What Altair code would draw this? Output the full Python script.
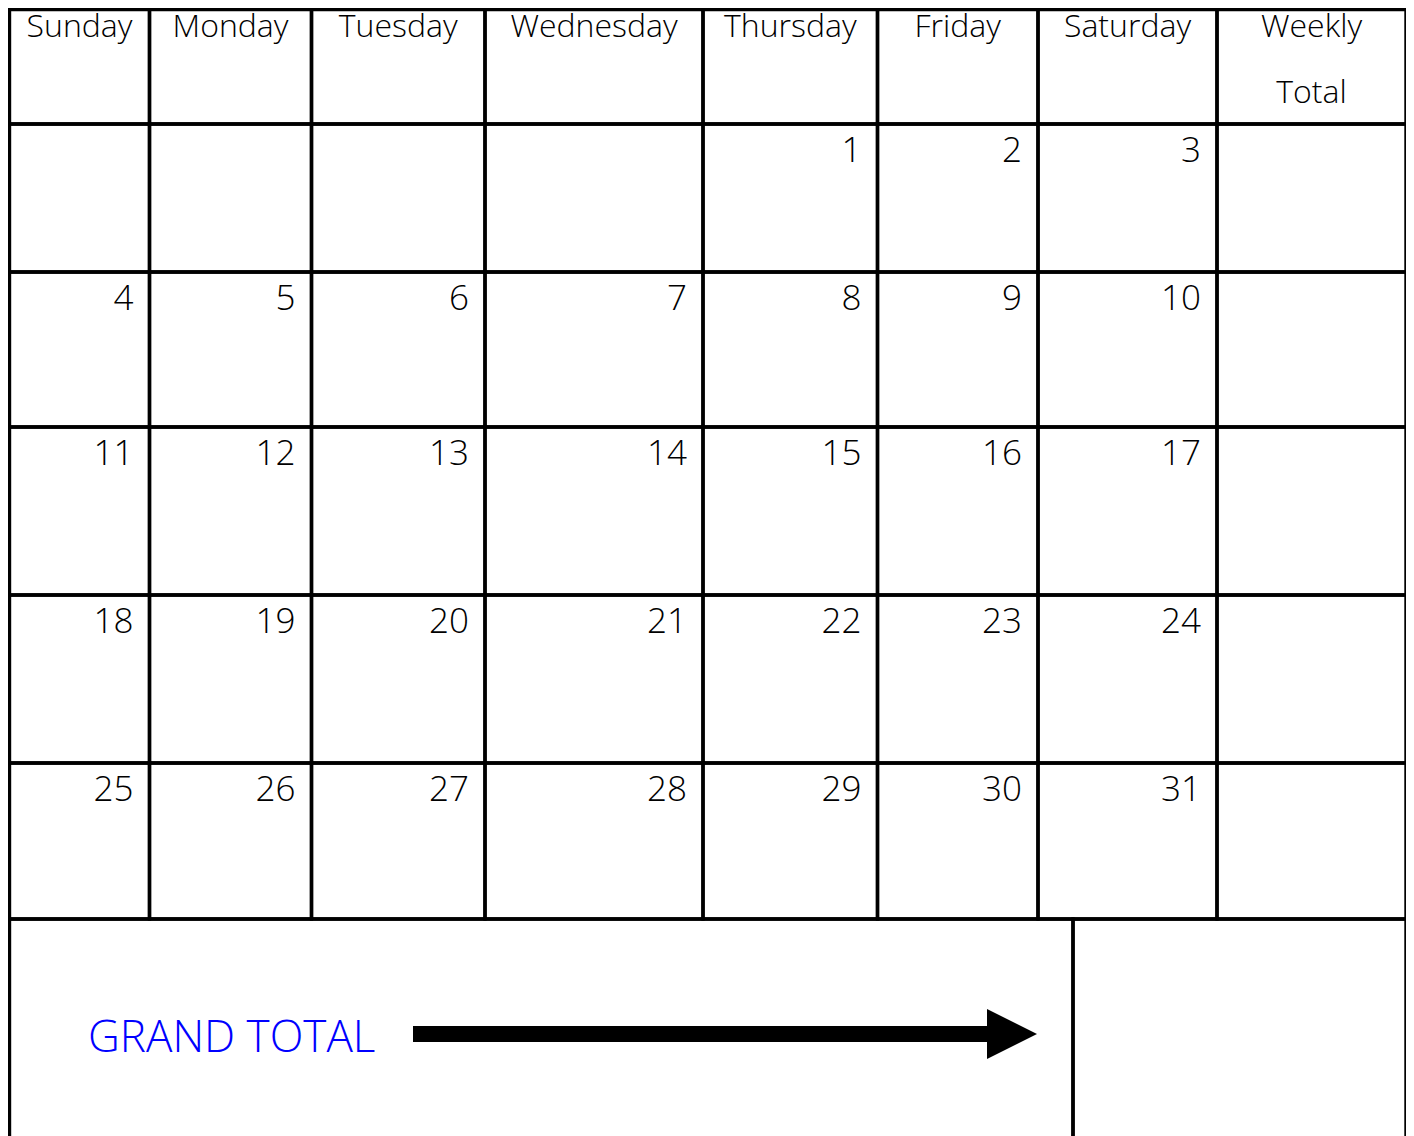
import altair as alt
import pandas as pd

# ---------------- data ----------------
DAYS = ["Sunday", "Monday", "Tuesday", "Wednesday", "Thursday", "Friday", "Saturday"]
TOTAL_HEADER = ["Weekly", "Total"]
FIRST_WEEKDAY = 4          # the 1st falls on a Thursday
DAYS_IN_MONTH = 31
GRAND_LABEL = "GRAND TOTAL"

# ---------------- layout (page pixels) ----------------
COL_EDGES = [9.5, 149.5, 311.5, 485, 703, 877.5, 1038, 1217, 1406]
ROW_EDGES = [9.5, 124, 272, 427, 595, 763, 919, 1160]
FOOT_SPLIT = 1073
W, H = 1398, 1128
FONT = "Open Sans"
WEIGHT = 300
HEAD_SIZE = 32
DATE_SIZE = 35
GRAND_SIZE = 44
LINE_W = 3.4

# ---------------- tables ----------------
cells = []
n_cols = len(DAYS) + 1
n_weeks = len(ROW_EDGES) - 3
for r in range(n_weeks + 1):
    for c in range(n_cols):
        cells.append(dict(x=COL_EDGES[c], x2=COL_EDGES[c + 1], y=ROW_EDGES[r], y2=ROW_EDGES[r + 1]))
cells.append(dict(x=COL_EDGES[0], x2=FOOT_SPLIT, y=ROW_EDGES[-2], y2=ROW_EDGES[-1]))
cells.append(dict(x=FOOT_SPLIT, x2=COL_EDGES[-1], y=ROW_EDGES[-2], y2=ROW_EDGES[-1]))
cells_df = pd.DataFrame(cells)

head = []
for i, d in enumerate(DAYS):
    head.append(dict(x=(COL_EDGES[i] + COL_EDGES[i + 1]) / 2, y=37, t=d))
for j, t in enumerate(TOTAL_HEADER):
    head.append(dict(x=(COL_EDGES[-2] + COL_EDGES[-1]) / 2, y=37 + 66 * j, t=t))
head_df = pd.DataFrame(head)

dates = []
for day in range(1, DAYS_IN_MONTH + 1):
    pos = FIRST_WEEKDAY + day - 1
    r, c = pos // 7, pos % 7
    dates.append(dict(x=COL_EDGES[c + 1] - 16, y=ROW_EDGES[r + 1] + 38, t=str(day)))
dates_df = pd.DataFrame(dates)

foot_mid = 1034
grand_df = pd.DataFrame([dict(x=88, y=foot_mid + 18, t=GRAND_LABEL)])
shaft_df = pd.DataFrame([dict(x=413, x2=987, y=foot_mid - 8, y2=foot_mid + 8)])
head_arrow_df = pd.DataFrame([dict(x=1012, y=foot_mid)])

# ---------------- scales ----------------
xs = alt.Scale(domain=[8, 8 + W], nice=False, zero=False)
ys = alt.Scale(domain=[8, 8 + H], nice=False, zero=False, reverse=True)
X = lambda f: alt.X(f, type="quantitative", scale=xs, axis=None)
Y = lambda f: alt.Y(f, type="quantitative", scale=ys, axis=None)

grid = alt.Chart(cells_df).mark_rect(
    fill="white", fillOpacity=0, stroke="black", strokeWidth=LINE_W, strokeOpacity=1
).encode(x=X("x"), x2="x2", y=Y("y"), y2="y2")

headers = alt.Chart(head_df).mark_text(
    font=FONT, fontWeight=WEIGHT, fontSize=HEAD_SIZE, align="center", baseline="alphabetic", color="black"
).encode(x=X("x"), y=Y("y"), text="t")

date_text = alt.Chart(dates_df).mark_text(
    font=FONT, fontWeight=WEIGHT, fontSize=DATE_SIZE, align="right", baseline="alphabetic", color="black"
).encode(x=X("x"), y=Y("y"), text="t")

grand = alt.Chart(grand_df).mark_text(
    font=FONT, fontWeight=WEIGHT, fontSize=GRAND_SIZE, align="left", baseline="alphabetic", color="#0000FF"
).encode(x=X("x"), y=Y("y"), text="t")

shaft = alt.Chart(shaft_df).mark_rect(color="black").encode(x=X("x"), x2="x2", y=Y("y"), y2="y2")

arrow_head = alt.Chart(head_arrow_df).mark_point(
    shape="M-1,-1L1,0L-1,1Z", size=2500, filled=True, color="black", opacity=1, strokeWidth=0
).encode(x=X("x"), y=Y("y"))

chart = alt.layer(grid, headers, date_text, grand, shaft, arrow_head).properties(
    width=W, height=H, padding=0, autosize=alt.AutoSizeParams(type="none"), background="white"
).configure_view(stroke=None)

chart.save("out.html", embed_options={"renderer": "svg", "actions": False})
